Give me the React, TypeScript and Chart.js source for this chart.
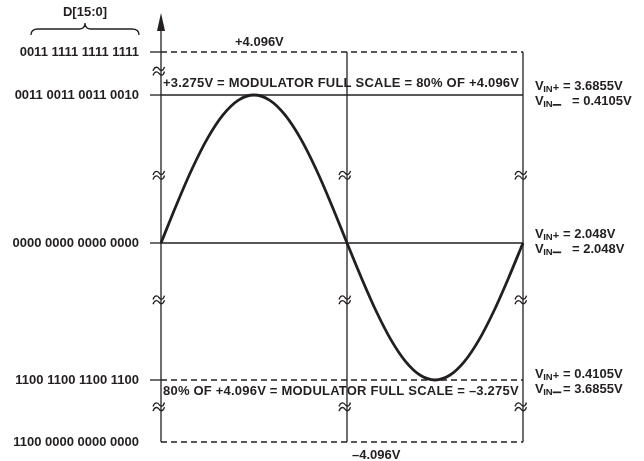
import React, { useEffect, useRef } from 'react';
import { Chart, registerables, LinearScale } from 'chart.js';

Chart.register(...registerables);

// ---- data ----
const phaseDegrees = [0, 15, 30, 45, 60, 75, 90, 105, 120, 135, 150, 165, 180, 195, 210, 225, 240, 255, 270, 285, 300, 315, 330, 345, 360];
const signalVolts = [0, 0.848, 1.638, 2.316, 2.836, 3.163, 3.275, 3.163, 2.836, 2.316, 1.638, 0.848, 0, -0.848, -1.638, -2.316, -2.836, -3.163, -3.275, -3.163, -2.836, -2.316, -1.638, -0.848, 0];

const levelVolts = [4.096, 3.275, 0, -3.275, -4.096];
const levelCodes = ['0011 1111 1111 1111', '0011 0011 0011 0010', '0000 0000 0000 0000', '1100 1100 1100 1100', '1100 0000 0000 0000'];
const levelDashed = [true, false, false, true, true];
const levelTicked = [true, true, true, true, false];

const vinLevels = [3.275, 0, -3.275];
const vinPlus = ['3.6855V', '2.048V', '0.4105V'];
const vinMinus = ['0.4105V', '2.048V', '3.6855V'];

const breakVoltsAxis = [3.73, 1.5, -1.36, -3.63];
const breakVoltsInner = [1.5, -1.36, -3.63];
const verticalPhases = [0, 180, 360];

const topLabel = '+4.096V';
const bottomLabel = '–4.096V';
const upperNote = '+3.275V = MODULATOR FULL SCALE = 80% OF +4.096V';
const lowerNote = '80% OF +4.096V = MODULATOR FULL SCALE = –3.275V';
const busLabel = 'D[15:0]';

// ---- schematic (broken) scales ----
const X_PIECES = { values: [0, 180, 360], fractions: [0, 0.5138, 1] };
const Y_PIECES = { values: [-4.096, -3.275, 0, 3.275, 4.096], fractions: [0, 0.159, 0.5103, 0.8897, 1] };

class PiecewiseScale extends LinearScale {
  static id = 'piecewise';
  static defaults = {};
  getPixelForValue(value: number) {
    const p = (this as any).axis === 'x' ? X_PIECES : Y_PIECES;
    const v = p.values, f = p.fractions;
    let i = 0;
    while (i < v.length - 2 && value > v[i + 1]) i++;
    const dec = f[i] + ((value - v[i]) / (v[i + 1] - v[i])) * (f[i + 1] - f[i]);
    return (this as any).getPixelForDecimal(dec);
  }
}
Chart.register(PiecewiseScale as any);

const INK = '#231f20';
const FONT = 'bold 13px "Liberation Sans", Arial, Helvetica, sans-serif';

function drawBreak(ctx: CanvasRenderingContext2D, cx: number, cy: number) {
  ctx.save();
  ctx.setLineDash([]);
  ctx.lineWidth = 1.3;
  ctx.strokeStyle = INK;
  for (const o of [-2.3, 2.3]) {
    ctx.beginPath();
    ctx.moveTo(cx - 8, cy + o + 2);
    ctx.bezierCurveTo(cx - 6, cy + o - 3.5, cx - 3, cy + o - 1.5, cx - 2, cy + o);
    ctx.bezierCurveTo(cx - 1, cy + o + 1.5, cx + 2, cy + o + 3.5, cx + 3.5, cy + o - 2);
    ctx.stroke();
  }
  ctx.restore();
}

const diagramPlugin = {
  id: 'diagram',
  beforeDatasetsDraw(chart: any) {
    const ctx: CanvasRenderingContext2D = chart.ctx;
    const xs = chart.scales.x, ys = chart.scales.y;
    const xL = xs.getPixelForValue(0);
    const xR = xs.getPixelForValue(360);
    const yTop = ys.getPixelForValue(4.096);
    const yBot = ys.getPixelForValue(-4.096);
    ctx.save();
    ctx.strokeStyle = INK;
    ctx.fillStyle = INK;
    ctx.lineWidth = 1.3;
    levelVolts.forEach((v, i) => {
      const y = ys.getPixelForValue(v);
      ctx.setLineDash([]);
      if (levelTicked[i]) {
        ctx.beginPath();
        ctx.moveTo(xL - 11, y);
        ctx.lineTo(xL, y);
        ctx.stroke();
      }
      ctx.setLineDash(levelDashed[i] ? [6, 4] : []);
      ctx.beginPath();
      ctx.moveTo(xL, y);
      ctx.lineTo(xR, y);
      ctx.stroke();
    });
    ctx.setLineDash([]);
    verticalPhases.forEach((p, i) => {
      const x = xs.getPixelForValue(p);
      ctx.beginPath();
      ctx.moveTo(x, i === 0 ? yTop - 25 : yTop);
      ctx.lineTo(x, yBot);
      ctx.stroke();
    });
    // arrow head
    ctx.beginPath();
    ctx.moveTo(xL, yTop - 39);
    ctx.lineTo(xL - 4, yTop - 21);
    ctx.lineTo(xL + 4, yTop - 21);
    ctx.closePath();
    ctx.fill();
    ctx.restore();
  },
  afterDatasetsDraw(chart: any) {
    const ctx: CanvasRenderingContext2D = chart.ctx;
    const xs = chart.scales.x, ys = chart.scales.y;
    const xL = xs.getPixelForValue(0);
    const xM = xs.getPixelForValue(180);
    const xR = xs.getPixelForValue(360);
    const yTop = ys.getPixelForValue(4.096);
    const yBot = ys.getPixelForValue(-4.096);

    breakVoltsAxis.forEach((v) => drawBreak(ctx, xL, ys.getPixelForValue(v)));
    [xM, xR].forEach((x) => breakVoltsInner.forEach((v) => drawBreak(ctx, x, ys.getPixelForValue(v))));

    ctx.save();
    ctx.fillStyle = INK;
    ctx.strokeStyle = INK;
    ctx.font = FONT;
    ctx.textBaseline = 'middle';

    // codes
    ctx.textAlign = 'right';
    levelVolts.forEach((v, i) => ctx.fillText(levelCodes[i], xL - 22, ys.getPixelForValue(v)));

    // bus label + brace
    ctx.textAlign = 'center';
    ctx.fillText(busLabel, 85, 12);
    ctx.lineWidth = 1.3;
    ctx.beginPath();
    ctx.moveTo(31, 35);
    ctx.quadraticCurveTo(31, 29, 38, 29);
    ctx.lineTo(79, 29);
    ctx.quadraticCurveTo(85, 29, 85, 23);
    ctx.quadraticCurveTo(85, 29, 91, 29);
    ctx.lineTo(132, 29);
    ctx.quadraticCurveTo(139, 29, 139, 35);
    ctx.stroke();

    // top / bottom voltages
    ctx.textAlign = 'left';
    ctx.fillText(topLabel, xL + 74, yTop - 10);
    ctx.fillText(bottomLabel, xM + 5, yBot + 13);

    // notes
    (ctx as any).letterSpacing = '0.21px';
    ctx.fillText(upperNote, xL + 2, ys.getPixelForValue(3.275) - 12);
    ctx.fillText(lowerNote, xL + 2, ys.getPixelForValue(-3.275) + 11);
    (ctx as any).letterSpacing = '0px';

    // VIN labels
    const offs = [-1, -1.5, 1.5];
    const minusGap = [572, 572, 563];
    vinLevels.forEach((v, i) => {
      const yc = ys.getPixelForValue(v) + offs[i];
      const rows = [
        { y: yc - 7.5, plus: true, val: vinPlus[i], vx: 563 },
        { y: yc + 7.5, plus: false, val: vinMinus[i], vx: minusGap[i] },
      ];
      rows.forEach((r) => {
        let x = xR + 12;
        ctx.font = FONT;
        ctx.fillText('V', x, r.y);
        x += ctx.measureText('V').width - 0.5;
        ctx.font = 'bold 9.5px "Liberation Sans", Arial, sans-serif';
        ctx.fillText('IN', x, r.y + 3);
        x += ctx.measureText('IN').width;
        if (r.plus) {
          ctx.font = 'bold 11px "Liberation Sans", Arial, sans-serif';
          ctx.fillText('+', x, r.y + 1.5);
        } else {
          ctx.fillRect(x, r.y + 2.5, 8.5, 1.7);
        }
        ctx.font = FONT;
        ctx.fillText('= ' + r.val, r.vx, r.y);
      });
    });
    ctx.restore();
  },
};

export default function App() {
  const canvasRef = useRef<HTMLCanvasElement | null>(null);
  useEffect(() => {
    if (!canvasRef.current) return;
    const chart = new Chart(canvasRef.current, {
      type: 'line',
      data: {
        datasets: [
          {
            data: phaseDegrees.map((p, i) => ({ x: p, y: signalVolts[i] })),
            borderColor: INK,
            borderWidth: 2.8,
            pointRadius: 0,
            cubicInterpolationMode: 'monotone',
            fill: false,
            clip: false as any,
          },
        ],
      },
      options: {
        animation: false,
        responsive: false,
        devicePixelRatio: 1,
        events: [],
        layout: { padding: { left: 161, right: 121, top: 52, bottom: 19 } },
        plugins: { legend: { display: false }, tooltip: { enabled: false } },
        scales: {
          x: { type: 'piecewise' as any, min: 0, max: 360, display: false },
          y: { type: 'piecewise' as any, min: -4.096, max: 4.096, display: false },
        },
      },
      plugins: [diagramPlugin],
    });
    return () => chart.destroy();
  }, []);
  return (
    <div style={{ position: 'absolute', left: 0, top: 0, width: 644, height: 461, background: '#fff' }}>
      <canvas ref={canvasRef} width={644} height={461} />
    </div>
  );
}
